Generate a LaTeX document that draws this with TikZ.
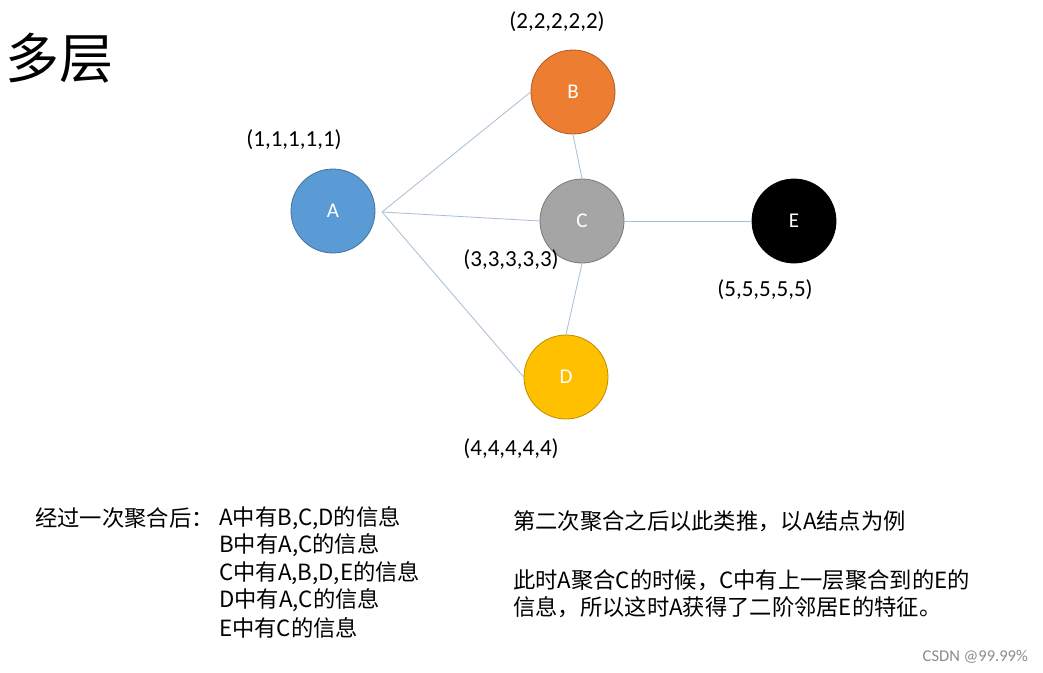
\documentclass[tikz,border=0pt]{standalone}
\usepackage{fontspec}
\setmainfont{Carlito}
\newfontfamily\cjk{Noto Sans CJK SC}
\definecolor{nA}{HTML}{5B9BD5}\definecolor{bA}{HTML}{41719C}
\definecolor{nB}{HTML}{ED7D31}\definecolor{bB}{HTML}{AE5A21}
\definecolor{nC}{HTML}{A5A5A5}\definecolor{bC}{HTML}{787878}
\definecolor{nD}{HTML}{FFC000}\definecolor{bD}{HTML}{BC8C00}
\definecolor{edgec}{HTML}{A7BED6}
\tikzset{
  vtx/.style={circle, minimum size=84pt, inner sep=0pt, line width=0.8pt, text=white, font=\fontsize{21}{25}\selectfont},
  lbl/.style={font=\fontsize{23}{27}\selectfont, text=black, inner sep=0pt},
  body/.style={font=\cjk\fontsize{22.3}{26}\selectfont, anchor=west, inner sep=0pt},
  link/.style={draw=edgec, line width=0.8pt}
}
\begin{document}
\begin{tikzpicture}[x=1pt,y=-1pt]
\useasboundingbox[fill=white] (0,0) rectangle (1043,672);
% title
\node[font=\cjk\fontsize{54}{60}\selectfont, anchor=west, inner sep=0pt] (title) at (5,58) {多层};
% nodes
\node[vtx, fill=nA, draw=bA] (A) at (333,211) {A};
\node[vtx, fill=nB, draw=bB] (B) at (573,92) {B};
\node[vtx, fill=nC, draw=bC] (C) at (582,221) {C};
\node[vtx, fill=nD, draw=bD] (D) at (566,377) {D};
\node[vtx, fill=black, draw=black] (E) at (794,221) {E};
\coordinate (Ahub) at (382,212);
% edges
\draw[link] (Ahub) -- (B.west);
\draw[link] (Ahub) -- (C.west);
\draw[link] (Ahub) -- (D.west);
\draw[link] (B.south) -- (C.north);
\draw[link] (C.south) -- (D.north);
\draw[link] (C.east) -- (E.west);
% labels
\node[lbl] (lA) at (294,140) {(1,1,1,1,1)};
\node[lbl] (lB) at (557,22) {(2,2,2,2,2)};
\node[lbl] (lC) at (511,260) {(3,3,3,3,3)};
\node[lbl] (lD) at (511,449) {(4,4,4,4,4)};
\node[lbl] (lE) at (765,290) {(5,5,5,5,5)};
% bottom left text
\node[body] (t0) at (35,518) {经过一次聚合后：};
\node[body] (t1) at (219,518) {A中有B,C,D的信息};
\node[body] (t2) at (219,545.5) {B中有A,C的信息};
\node[body] (t3) at (219,573) {C中有A,B,D,E的信息};
\node[body] (t4) at (219,600.5) {D中有A,C的信息};
\node[body] (t5) at (219,628) {E中有C的信息};
% bottom right text
\node[body] (r1) at (513,521) {第二次聚合之后以此类推，以A结点为例};
\node[body] (r2) at (513,580) {此时A聚合C的时候，C中有上一层聚合到的E的};
\node[body] (r3) at (513,607) {信息，所以这时A获得了二阶邻居E的特征。};
% watermark
\node[font=\fontsize{16.5}{18}\selectfont, text=black!45, anchor=east, inner sep=0pt] (wm) at (1028,657) {CSDN @99.99\%};
\end{tikzpicture}
\end{document}
